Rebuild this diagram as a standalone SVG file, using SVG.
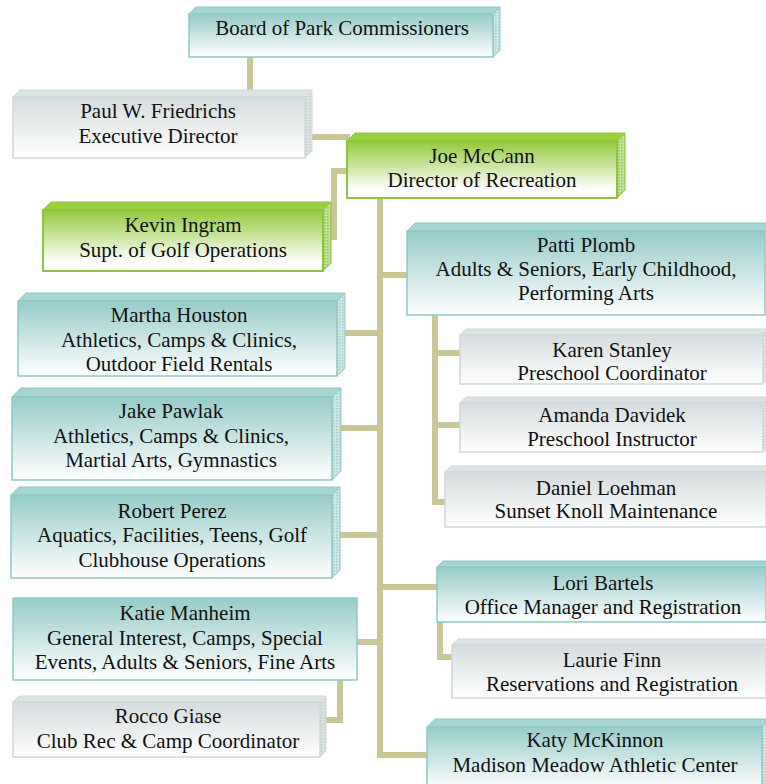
<svg xmlns="http://www.w3.org/2000/svg" width="766" height="784" viewBox="0 0 766 784">
<defs>
<linearGradient id="gT" x1="0" y1="0" x2="0" y2="1"><stop offset="0" stop-color="#96ccc9"/><stop offset="1" stop-color="#ffffff"/></linearGradient>
<linearGradient id="gG" x1="0" y1="0" x2="0" y2="1"><stop offset="0" stop-color="#d5dcdd"/><stop offset="1" stop-color="#ffffff"/></linearGradient>
<linearGradient id="gN" x1="0" y1="0" x2="0" y2="1"><stop offset="0" stop-color="#92c93a"/><stop offset="0.85" stop-color="#ffffff"/></linearGradient>
<pattern id="pT" width="3" height="3" patternUnits="userSpaceOnUse"><rect width="3" height="3" fill="#cfe6e4"/><rect width="1.5" height="1.5" fill="#a2d2cf"/></pattern>
<pattern id="pG" width="3" height="3" patternUnits="userSpaceOnUse"><rect width="3" height="3" fill="#dde3e4"/><rect width="1.5" height="1.5" fill="#c3cbcc"/></pattern>
<pattern id="pN" width="3" height="3" patternUnits="userSpaceOnUse"><rect width="3" height="3" fill="#c3e09a"/><rect width="1.5" height="1.5" fill="#93c948"/></pattern>
<style>
.c{fill:none;stroke:#c9c697;stroke-width:6;stroke-linecap:butt;stroke-linejoin:miter}
.fT{fill:url(#gT);stroke:#8fc9c6;stroke-width:1.5}
.tT{fill:#a7d5d2;stroke:#8fc9c6;stroke-width:1}
.sT{fill:url(#pT);stroke:#8fc9c6;stroke-width:1}
.fG{fill:url(#gG);stroke:#d0d8d9;stroke-width:1.5}
.tG{fill:#dde3e4;stroke:#d0d8d9;stroke-width:1}
.sG{fill:url(#pG);stroke:#d0d8d9;stroke-width:1}
.fN{fill:url(#gN);stroke:#8cc63e;stroke-width:2}
.tN{fill:#9ccf3c;stroke:#8cc63e;stroke-width:1}
.sN{fill:url(#pN);stroke:#8cc63e;stroke-width:1}
text{font-family:"Liberation Serif","Times New Roman",serif;font-size:21px;fill:#111111;text-anchor:middle}
</style>
</defs>
<g id="connectors">
<path class="c" d="M250,57V90"/>
<path class="c" d="M310,137H350"/>
<path class="c" d="M350,171H334V240"/>
<path class="c" d="M380,198V758"/>
<path class="c" d="M380,275H408"/>
<path class="c" d="M435,315V502H446"/>
<path class="c" d="M435,353H461"/>
<path class="c" d="M435,425H461"/>
<path class="c" d="M340,333H380"/>
<path class="c" d="M335,428H380"/>
<path class="c" d="M335,535H380"/>
<path class="c" d="M357,642H380"/>
<path class="c" d="M340,680V720H322"/>
<path class="c" d="M380,587H438"/>
<path class="c" d="M440,622V657H453"/>
<path class="c" d="M380,755H428"/>
</g>
<g id="board">
<polygon class="tT" points="189,14 196,7 500,7 493,14"/>
<polygon class="sT" points="493,14 500,7 500,50 493,57"/>
<rect class="fT" x="189" y="14" width="304" height="43"/>
<text x="342" y="35">Board of Park Commissioners</text>
</g>
<g id="paul">
<polygon class="tG" points="13,97 20,90 312,90 305,97"/>
<polygon class="sG" points="305,97 312,90 312,151 305,158"/>
<rect class="fG" x="13" y="97" width="292" height="61"/>
<text x="158" y="118">Paul W. Friedrichs</text>
<text x="158" y="143">Executive Director</text>
</g>
<g id="joe">
<polygon class="tN" points="347,141 355,133 625,133 617,141"/>
<polygon class="sN" points="617,141 625,133 625,190 617,198"/>
<rect class="fN" x="347" y="141" width="270" height="57"/>
<text x="482" y="163">Joe McCann</text>
<text x="482" y="187">Director of Recreation</text>
</g>
<g id="kevin">
<polygon class="tN" points="43,210 51,202 331,202 323,210"/>
<polygon class="sN" points="323,210 331,202 331,263 323,271"/>
<rect class="fN" x="43" y="210" width="280" height="61"/>
<text x="183" y="232">Kevin Ingram</text>
<text x="183" y="257">Supt. of Golf Operations</text>
</g>
<g id="patti">
<polygon class="tT" points="407,231 415,223 773,223 765,231"/>
<rect class="fT" x="407" y="231" width="358" height="84"/>
<text x="586" y="252">Patti Plomb</text>
<text x="586" y="276">Adults &amp; Seniors, Early Childhood,</text>
<text x="586" y="300">Performing Arts</text>
</g>
<g id="karen">
<polygon class="tG" points="460,335 466,329 769,329 763,335"/>
<polygon class="sG" points="763,335 769,329 769,378 763,384"/>
<rect class="fG" x="460" y="335" width="303" height="49"/>
<text x="612" y="357">Karen Stanley</text>
<text x="612" y="380">Preschool Coordinator</text>
</g>
<g id="amanda">
<polygon class="tG" points="460,403 466,397 769,397 763,403"/>
<polygon class="sG" points="763,403 769,397 769,446 763,452"/>
<rect class="fG" x="460" y="403" width="303" height="49"/>
<text x="612" y="422">Amanda Davidek</text>
<text x="612" y="446">Preschool Instructor</text>
</g>
<g id="daniel">
<polygon class="tG" points="445,472 451,466 772,466 766,472"/>
<rect class="fG" x="445" y="472" width="321" height="55"/>
<text x="606" y="495">Daniel Loehman</text>
<text x="606" y="518">Sunset Knoll Maintenance</text>
</g>
<g id="martha">
<polygon class="tT" points="18,301 26,293 345,293 337,301"/>
<polygon class="sT" points="337,301 345,293 345,368 337,376"/>
<rect class="fT" x="18" y="301" width="319" height="75"/>
<text x="179" y="322">Martha Houston</text>
<text x="179" y="347">Athletics, Camps &amp; Clinics,</text>
<text x="179" y="371">Outdoor Field Rentals</text>
</g>
<g id="jake">
<polygon class="tT" points="12,397 21,388 341,388 332,397"/>
<polygon class="sT" points="332,397 341,388 341,471 332,480"/>
<rect class="fT" x="12" y="397" width="320" height="83"/>
<text x="171" y="418">Jake Pawlak</text>
<text x="171" y="443">Athletics, Camps &amp; Clinics,</text>
<text x="171" y="467">Martial Arts, Gymnastics</text>
</g>
<g id="robert">
<polygon class="tT" points="11,495 19,487 340,487 332,495"/>
<polygon class="sT" points="332,495 340,487 340,570 332,578"/>
<rect class="fT" x="11" y="495" width="321" height="83"/>
<text x="172" y="518">Robert Perez</text>
<text x="172" y="542">Aquatics, Facilities, Teens, Golf</text>
<text x="172" y="567">Clubhouse Operations</text>
</g>
<g id="katie">
<rect class="fT" x="13" y="598" width="344" height="82"/>
<text x="185" y="620">Katie Manheim</text>
<text x="185" y="645">General Interest, Camps, Special</text>
<text x="185" y="669">Events, Adults &amp; Seniors, Fine Arts</text>
</g>
<g id="rocco">
<polygon class="tG" points="13,702 19,696 326,696 320,702"/>
<polygon class="sG" points="320,702 326,696 326,751 320,757"/>
<rect class="fG" x="13" y="702" width="307" height="55"/>
<text x="168" y="723">Rocco Giase</text>
<text x="168" y="748">Club Rec &amp; Camp Coordinator</text>
</g>
<g id="lori">
<polygon class="tT" points="437,567 443,561 772,561 766,567"/>
<rect class="fT" x="437" y="567" width="329" height="55"/>
<text x="603" y="590">Lori Bartels</text>
<text x="603" y="614">Office Manager and Registration</text>
</g>
<g id="laurie">
<polygon class="tG" points="452,645 458,639 772,639 766,645"/>
<rect class="fG" x="452" y="645" width="314" height="53"/>
<text x="612" y="667">Laurie Finn</text>
<text x="612" y="691">Reservations and Registration</text>
</g>
<g id="katy">
<polygon class="tT" points="427,727 435,719 770,719 762,727"/>
<polygon class="sT" points="762,727 770,719 770,790 762,790"/>
<rect class="fT" x="427" y="727" width="335" height="62"/>
<text x="595" y="747">Katy McKinnon</text>
<text x="595" y="772">Madison Meadow Athletic Center</text>
</g>
</svg>
